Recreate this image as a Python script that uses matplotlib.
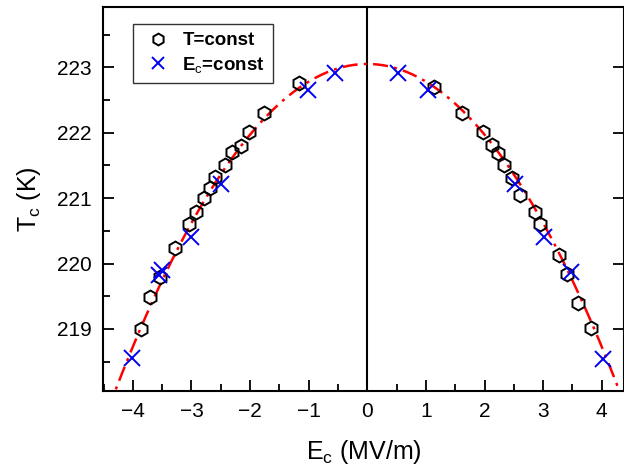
import numpy as np
import matplotlib
matplotlib.use("Agg")
import matplotlib.pyplot as plt
from matplotlib.ticker import MultipleLocator

plt.rcParams['font.family'] = ['Liberation Sans', 'DejaVu Sans']
plt.rcParams['mathtext.fontset'] = 'custom'
plt.rcParams['mathtext.rm'] = 'Liberation Sans'
plt.rcParams['mathtext.it'] = 'Liberation Sans'

# T = const data (hexagons)
t_ec = [-1.16, -1.77, -2.01, -2.15, -2.31, -2.42, -2.59, -2.69, -2.79, -2.92,
        -3.04, -3.28, -3.54, -3.71, -3.86,
        1.14, 1.62, 1.98, 2.12, 2.23, 2.34, 2.47, 2.60, 2.86, 2.95,
        3.27, 3.41, 3.60, 3.81]
t_tc = [222.76, 222.30, 222.01, 221.80, 221.70, 221.50, 221.32, 221.15, 221.00, 220.79,
        220.60, 220.23, 219.80, 219.49, 219.00,
        222.70, 222.30, 222.01, 221.81, 221.69, 221.50, 221.30, 221.05, 220.79, 220.60,
        220.13, 219.84, 219.40, 219.01]

# Ec = const data (crosses)
e_ec = [-0.55, -1.02, -2.49, -3.00, -3.55, -3.50, -4.02,
        0.53, 1.03, 2.52, 3.01, 3.48, 4.02]
e_tc = [222.91, 222.65, 221.21, 220.41, 219.83, 219.90, 218.55,
        222.91, 222.65, 221.21, 220.41, 219.87, 218.54]

# fitted curve Tc = tc0 - a * Ec^2
tc0 = 223.05
a = 0.27

fig = plt.figure(figsize=(6.24, 4.69), dpi=100)
ax = fig.add_axes([0.165, 0.166, 0.835, 0.819])

xs = np.linspace(-4.6, 4.6, 400)
ax.plot(xs, tc0 - a * xs**2, color='red', lw=1.8, dashes=(6, 2.5, 1.2, 2.5), zorder=2)
ax.axvline(0, color='black', lw=1.5, zorder=1)

ax.plot(t_ec, t_tc, 'h', ms=10, mfc='none', mec='black', mew=1.4, ls='none',
        label='T=const', zorder=3)
ax.plot(e_ec, e_tc, 'x', ms=11, color='#0000ee', mew=1.4, ls='none',
        label='E$_\\mathrm{c}$=const', zorder=4)

ax.set_xlim(-4.51, 4.38)
ax.set_ylim(218.05, 223.92)
ax.xaxis.set_major_locator(MultipleLocator(1))
ax.xaxis.set_minor_locator(MultipleLocator(0.5))
ax.yaxis.set_major_locator(MultipleLocator(1))
ax.yaxis.set_minor_locator(MultipleLocator(0.5))
ax.tick_params(which='major', direction='in', length=8, width=1.3, labelsize=15,
               right=True, top=False, pad=8)
ax.tick_params(which='minor', direction='in', length=5, width=1.3, left=True, bottom=True)
for s in ax.spines.values():
    s.set_linewidth(1.5)

ax.set_xlabel('E$_\\mathrm{c}$ (MV/m)', fontsize=18, labelpad=12)
ax.set_ylabel('T$_\\mathrm{c}$ (K)', fontsize=18, labelpad=10)

leg = ax.legend(loc='upper left', bbox_to_anchor=(0.057, 0.957), borderaxespad=0,
                prop={'weight': 'bold', 'size': 13.5}, frameon=True, fancybox=False,
                edgecolor='black', handletextpad=0.4, borderpad=0.45, labelspacing=0.3,
                handlelength=1.8, markerscale=0.85)
leg.get_frame().set_linewidth(1.0)

fig.savefig('out.png', dpi=100)
